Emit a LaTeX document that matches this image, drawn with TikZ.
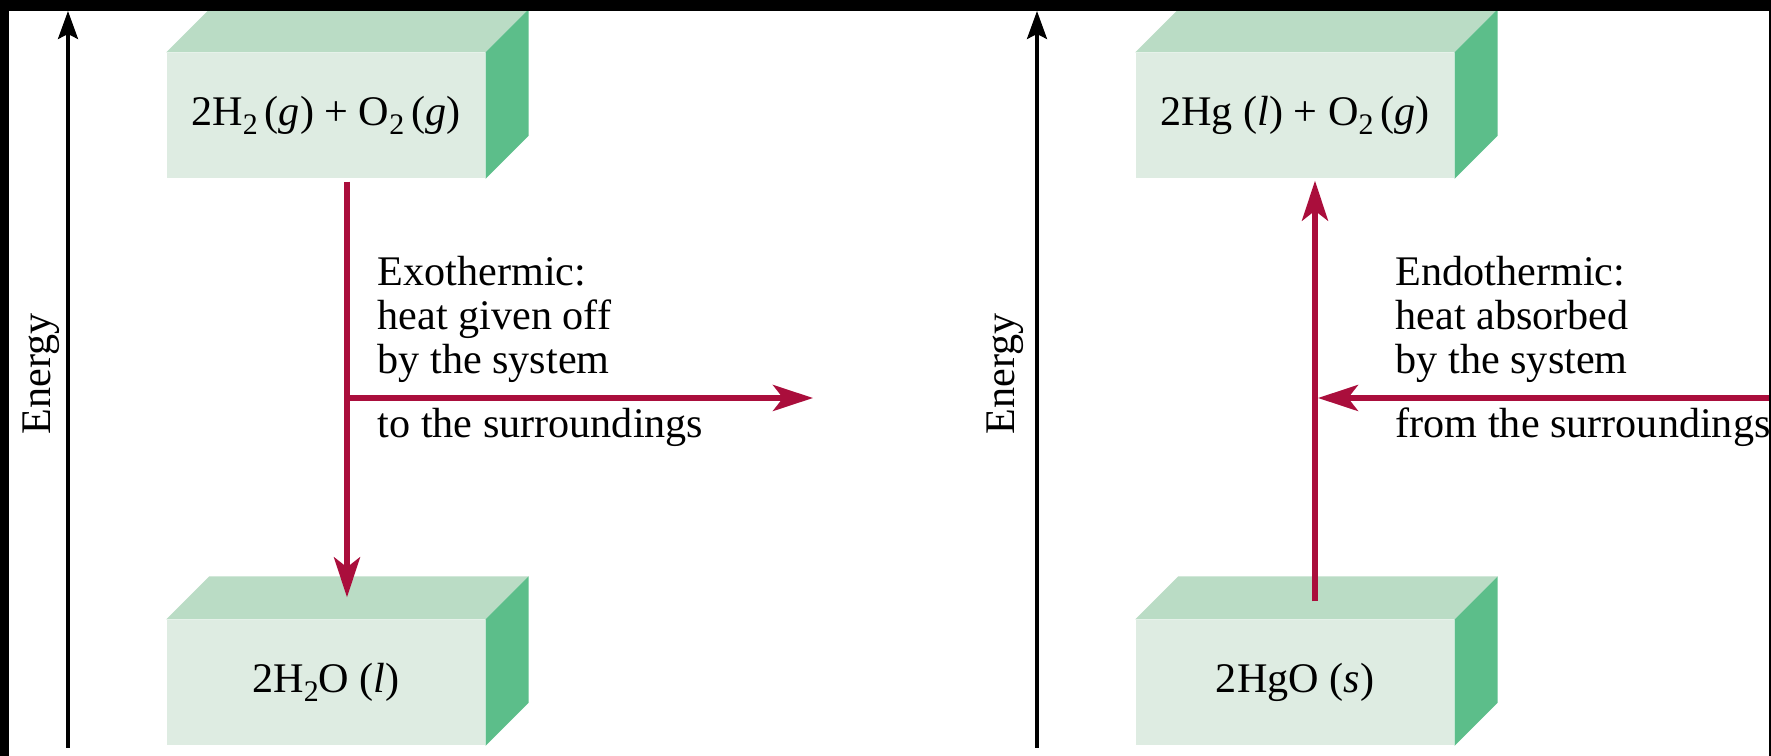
\documentclass[tikz,border=0pt]{standalone}
\usepackage{fontspec}
\setmainfont{Liberation Serif}
\usetikzlibrary{positioning, calc, arrows.meta}
\definecolor{boxFront}{RGB}{222, 236, 226}
\definecolor{boxTop}{RGB}{186, 220, 197}
\definecolor{boxSide}{RGB}{92, 190, 138}
\definecolor{heatRed}{RGB}{170, 14, 60}
\newcommand{\chemsub}[1]{\raisebox{-0.5ex}{\fontsize{8.5}{8.5}\selectfont #1}}
\tikzset{
    base/.style={
        font=\fontsize{12}{12.5}\selectfont
    },
    block/.style={
        base,
        rectangle,
        fill=boxFront,
        minimum width=3.18cm,
        minimum height=1.25cm,
        inner sep=0pt
    },
    topface/.style={
        fill=boxTop
    },
    sideface/.style={
        fill=boxSide
    },
    heat/.style={
        -{Stealth[length=4mm, width=2.6mm, inset=1mm]},
        line width=1.5pt,
        color=heatRed
    },
    axis/.style={
        -{Stealth[length=2.8mm, width=2mm, inset=0.5mm]},
        line width=0.9pt,
        color=black
    },
    note/.style={
        base,
        align=left,
        inner sep=0pt
    },
    axislabel/.style={
        base,
        rotate=90,
        inner sep=0pt
    }
}

\begin{document}
\begin{tikzpicture}
  % Frame
  \fill[black] (0,0) rectangle (17.71,7.56);
  \fill[white] (0.09,0) rectangle (17.69,7.45);
  \useasboundingbox (0,0) rectangle (17.71,7.56);

  % Exothermic: energy axis
  \coordinate (axisLbot) at (0.68,0.08);
  \coordinate (axisLtop) at (0.68,7.45);
  \draw[axis] (axisLbot) -- (axisLtop);
  \node[axislabel] (energyL) at (0.41,3.82) {Energy};

  % Exothermic: levels
  \node[block] (reacL) at (3.26,6.405) {2H\chemsub{2}\,(\textit{g}) + O\chemsub{2}\,(\textit{g})};
  \node[block] (prodL) at (3.26,0.735) {2H\chemsub{2}O (\textit{l})};

  % Endothermic: energy axis
  \coordinate (axisRbot) at (10.37,0.08);
  \coordinate (axisRtop) at (10.37,7.45);
  \draw[axis] (axisRbot) -- (axisRtop);
  \node[axislabel] (energyR) at (10.05,3.82) {Energy};

  % Endothermic: levels
  \node[block] (reacR) at (12.95,6.405) {2Hg (\textit{l}) + O\chemsub{2}\,(\textit{g})};
  \node[block] (prodR) at (12.95,0.735) {2HgO (\textit{s})};

  % Top and side faces of the blocks
  \foreach \b in {reacL, prodL, reacR, prodR} {
    \fill[topface] (\b.north west) -- ++(0.43,0.43) -- ([shift={(0.43,0.43)}]\b.north east) -- (\b.north east) -- cycle;
    \fill[sideface] (\b.north east) -- ++(0.43,0.43) -- ([shift={(0.43,0.43)}]\b.south east) -- (\b.south east) -- cycle;
  }

  % Heat flow, exothermic
  \draw[heat] ([xshift=2.1mm, yshift=-0.3mm]reacL.south) -- ([xshift=2.1mm, yshift=2.2mm]prodL.north);
  \coordinate (exoJoin) at (3.47,3.58);
  \coordinate (exoEnd) at (8.13,3.58);
  \draw[heat] (exoJoin) -- (exoEnd);
  \node[note, anchor=north west] (exoNote) at (3.77,5.00) {Exothermic:\\heat given off\\by the system};
  \node[note, anchor=base west] (exoOut) at (3.77,3.18) {to the surroundings};

  % Heat flow, endothermic
  \draw[heat] ([xshift=2mm, yshift=1.8mm]prodR.north) -- ([xshift=2mm, yshift=-0.2mm]reacR.south);
  \coordinate (endoStart) at (17.69,3.58);
  \coordinate (endoJoin) at (13.18,3.58);
  \draw[heat] (endoStart) -- (endoJoin);
  \node[note, anchor=north west] (endoNote) at (13.95,5.00) {Endothermic:\\heat absorbed\\by the system};
  \node[note, anchor=base west] (endoIn) at (13.95,3.18) {from the surroundings};

  % Frame top band over the clipped blocks
  \fill[black] (0,7.45) rectangle (17.71,7.56);
\end{tikzpicture}
\end{document}
